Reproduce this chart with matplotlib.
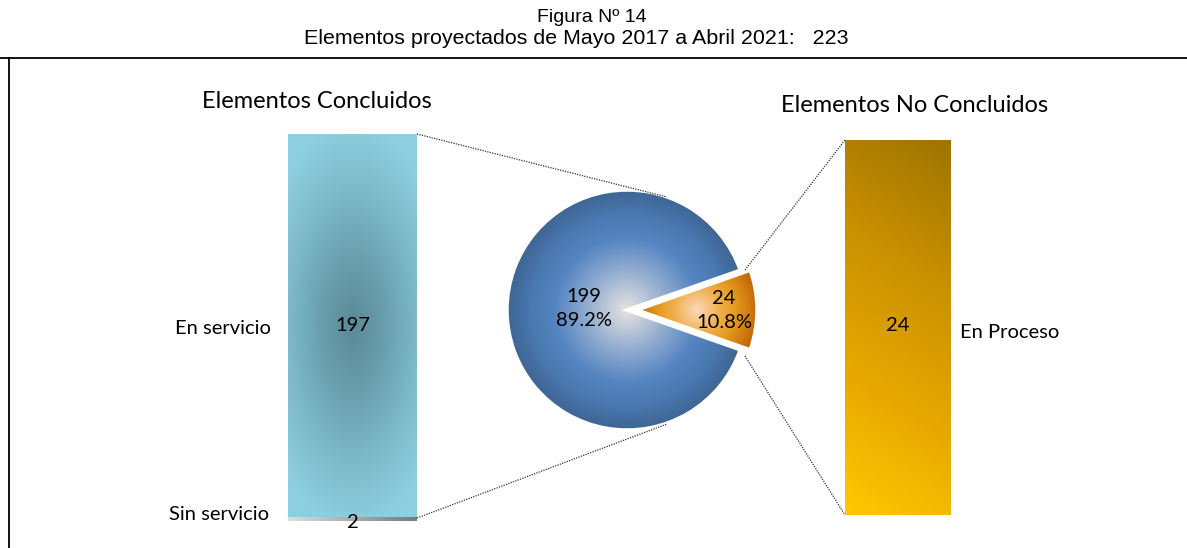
import numpy as np
import matplotlib
matplotlib.use('Agg')
import matplotlib.pyplot as plt
from matplotlib.colors import LinearSegmentedColormap

# ── Datos ──────────────────────────────────────────────
TOTAL = 223
pie_labels = ['Concluidos', 'No Concluidos']
pie_values = [199, 24]
left_cats = ['En servicio', 'Sin servicio']
left_values = [197, 2]
right_cats = ['En Proceso']
right_values = [24]

TITLE1 = 'Figura Nº 14'
TITLE2 = 'Elementos proyectados de Mayo 2017 a Abril 2021:   223'

W, H = 1187, 548
FONT = 'Lato'
FS_SMALL = 14.5
FS_HEAD = 17

fig = plt.figure(figsize=(W / 100, H / 100), dpi=100)
ax = fig.add_axes([0, 0, 1, 1])
ax.set_xlim(0, W)
ax.set_ylim(H, 0)
ax.set_aspect('equal')
ax.axis('off')

# ── Titulo y marco ─────────────────────────────────────
ax.text(592, 17, TITLE1, ha='center', va='center', fontsize=14,
        family='Liberation Sans')
ax.text(576, 38, TITLE2, ha='center', va='center', fontsize=15.4,
        family='Liberation Sans')
ax.plot([0, W], [58, 58], color='black', lw=1.3)
ax.plot([9, 9], [58, H], color='black', lw=1.3)


def gradient_image(extent, arr, cmap, clip, z=2):
    im = ax.imshow(arr, extent=extent, cmap=cmap, vmin=0, vmax=1,
                   interpolation='bilinear', zorder=z, aspect='auto')
    im.set_clip_path(clip)
    return im


# ── Barra izquierda (concluidos) ───────────────────────
LX, LW, LBASE, LTOP = 288, 129, 521, 134
lscale = (LBASE - LTOP) / sum(left_values)
heights = [v * lscale for v in left_values[::-1]]  # Sin servicio abajo
bar_bottom_y = [LBASE - sum(heights[:i + 1]) for i in range(len(heights))]
bars_l = ax.bar([LX + LW / 2] * 2, heights, bottom=bar_bottom_y, width=LW,
                color='none', edgecolor='none', zorder=3)

cmap_teal = LinearSegmentedColormap.from_list('teal', ['#5a8a96', '#6a9fad', '#7db9c9', '#8dcfe0'])
yy, xx = np.mgrid[0:200, 0:100]
r = np.sqrt(((xx - 50) / 75.0) ** 2 + ((yy - 100) / 105.0) ** 2)
r = np.clip(r, 0, 1)
b_srv = bars_l[1]
gradient_image((LX, LX + LW, b_srv.get_y() + b_srv.get_height(), b_srv.get_y()),
               r, cmap_teal, b_srv)

cmap_gray = LinearSegmentedColormap.from_list('gray', ['#dcdcdc', '#7a7a7a'])
b_sin = bars_l[0]
gradient_image((LX, LX + LW, b_sin.get_y() + b_sin.get_height(), b_sin.get_y()),
               np.tile(np.linspace(0, 1, 100), (4, 1)), cmap_gray, b_sin)

ax.text(LX + LW / 2, b_srv.get_y() + b_srv.get_height() / 2, str(left_values[0]),
        ha='center', va='center', fontsize=FS_SMALL, family=FONT)
ax.text(LX + LW / 2, LBASE + 2, str(left_values[1]),
        ha='center', va='center', fontsize=FS_SMALL, family=FONT)
ax.text(271, 328, left_cats[0], ha='right', va='center', fontsize=FS_SMALL, family=FONT)
ax.text(269, 514, left_cats[1], ha='right', va='center', fontsize=FS_SMALL, family=FONT)
ax.text(317, 102, 'Elementos Concluidos', ha='center', va='center',
        fontsize=FS_HEAD, family=FONT)

# ── Barra derecha (no concluidos) ──────────────────────
RX, RW, RBASE, RTOP = 845, 106, 515, 140
rscale = (RBASE - RTOP) / sum(right_values)
bars_r = ax.bar([RX + RW / 2], [v * rscale for v in right_values],
                bottom=[RBASE - v * rscale for v in right_values], width=RW,
                color='none', edgecolor='none', zorder=3)
cmap_gold = LinearSegmentedColormap.from_list('gold', ['#ffc800', '#e6a800', '#c99000', '#9e7400'])
yy, xx = np.mgrid[0:200, 0:60]
g = np.clip((1 - yy / 199.0) * 0.85 + (xx / 59.0) * 0.15, 0, 1)
br = bars_r[0]
gradient_image((RX, RX + RW, br.get_y() + br.get_height(), br.get_y()),
               g, cmap_gold, br)
ax.text(RX + RW / 2, br.get_y() + br.get_height() / 2 - 2, str(right_values[0]),
        ha='center', va='center', fontsize=FS_SMALL, family=FONT)
ax.text(960, 332, right_cats[0], ha='left', va='center', fontsize=FS_SMALL, family=FONT)
ax.text(915, 106, 'Elementos No Concluidos', ha='center', va='center',
        fontsize=FS_HEAD, family=FONT)

# ── Pastel ─────────────────────────────────────────────
PC, PR = (627, 310), 120
start = 180 * pie_values[1] / TOTAL
wedges, _ = ax.pie(pie_values, center=PC, radius=PR, startangle=start,
                   counterclock=True, explode=[0, 10],
                   wedgeprops=dict(facecolor='none', edgecolor='white', linewidth=2.5),
                   frame=True)
for w in wedges:
    w.set_zorder(4)
ax.set_xlim(0, W)
ax.set_ylim(H, 0)
ax.axis('off')

cmap_blue = LinearSegmentedColormap.from_list(
    'blue', [(0, '#e6e3df'), (0.35, '#8eaad0'), (0.6, '#5585c1'), (0.8, '#4a78b0'), (1, '#3e6594')])
yy, xx = np.mgrid[-1:1:300j, -1:1:300j]
rr = np.clip(np.sqrt(xx ** 2 + yy ** 2), 0, 1)
gradient_image((PC[0] - PR, PC[0] + PR, PC[1] + PR, PC[1] - PR), rr, cmap_blue, wedges[0])

cmap_or = LinearSegmentedColormap.from_list(
    'or', [(0, '#fbd9bd'), (0.35, '#f0b050'), (0.6, '#e49a1c'), (0.85, '#cc760e'), (1, '#bb6208')])
oc = (697, 310)
gradient_image((oc[0] - 65, oc[0] + 65, oc[1] + 65, oc[1] - 65), rr, cmap_or, wedges[1])

for w, v, pos in zip(wedges, pie_values, [(584, 309), (724, 311)]):
    ax.text(pos[0], pos[1], f'{v}\n{v / TOTAL * 100:.1f}%', ha='center', va='center',
            fontsize=FS_SMALL, family=FONT, linespacing=1.5, zorder=6)

# ── Lineas de conexion ─────────────────────────────────
ln = dict(color='#333333', lw=0.9, linestyle=(0, (1, 1)), zorder=5)
ax.plot([LX + LW, 667], [LTOP, 197], **ln)
ax.plot([LX + LW, 667], [LBASE - 3, 424], **ln)
ax.plot([745, RX], [270, RTOP], **ln)
ax.plot([745, RX], [356, RBASE], **ln)

fig.savefig('out.png', dpi=100)
